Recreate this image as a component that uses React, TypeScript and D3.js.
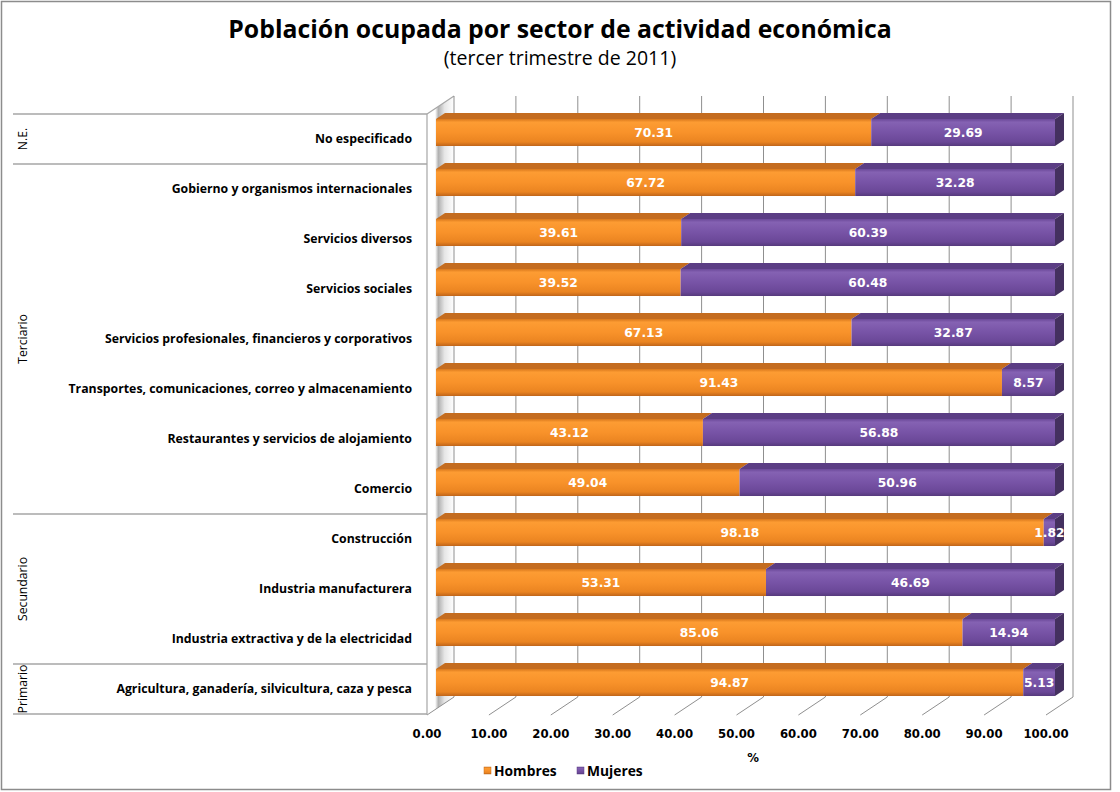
import React from "react";
import * as d3 from "d3";

const categories = [
  "No especificado",
  "Gobierno y organismos internacionales",
  "Servicios diversos",
  "Servicios sociales",
  "Servicios profesionales, financieros y corporativos",
  "Transportes, comunicaciones, correo y almacenamiento",
  "Restaurantes y servicios de alojamiento",
  "Comercio",
  "Construcción",
  "Industria manufacturera",
  "Industria extractiva y de la electricidad",
  "Agricultura, ganadería, silvicultura, caza y pesca",
];
const hombres = [70.31, 67.72, 39.61, 39.52, 67.13, 91.43, 43.12, 49.04, 98.18, 53.31, 85.06, 94.87];
const mujeres = [29.69, 32.28, 60.39, 60.48, 32.87, 8.57, 56.88, 50.96, 1.82, 46.69, 14.94, 5.13];
const groupNames = ["N.E.", "Terciario", "Secundario", "Primario"];
const groupSizes = [1, 7, 3, 1];
const tickValues = [0, 10, 20, 30, 40, 50, 60, 70, 80, 90, 100];
const seriesNames = ["Hombres", "Mujeres"];

const W = 1120;
const H = 792;
const DX = -27;
const DY = 18;
const FRONT = 0.667;
const BACK = 0.333;
const WALL_TOP = 96;
const WALL_BOTTOM = 697;

const FONT = "'Open Sans', 'DejaVu Sans', sans-serif";
const NUMFONT = "'DejaVu Sans', Verdana, sans-serif";

export default function App() {
  const xBack = d3.scaleLinear().domain([0, 100]).range([454, 1073]);
  const yBack = d3
    .scaleBand<string>()
    .domain(categories)
    .range([WALL_TOP - 0.5, WALL_BOTTOM - 1.5])
    .paddingInner(0.46)
    .paddingOuter(0.23);
  const bw = yBack.bandwidth();
  const step = 50;

  const proj = (v: number, y: number, d: number): [number, number] => [xBack(v) + DX * d, y + DY * d];
  const pts = (arr: [number, number][]) => arr.map((p) => p.join(",")).join(" ");

  const frontBandTop = WALL_TOP + DY; // 114
  const frontBandCenter = (i: number) => frontBandTop + step * (i + 0.5);

  const colors = {
    top: ["#c46c1f", "#5b3d84"],
    side: ["#a85a15", "#44305f"],
  };

  const bars: React.ReactNode[] = [];
  const labels: React.ReactNode[] = [];
  categories.forEach((c, i) => {
    const y0 = yBack(c)!;
    const segs = [
      [0, hombres[i]],
      [hombres[i], hombres[i] + mujeres[i]],
    ];
    const vals = [hombres[i], mujeres[i]];
    segs.forEach(([a, b], s) => {
      const f1 = proj(a, y0, FRONT);
      const f2 = proj(b, y0 + bw, FRONT);
      const top = [proj(a, y0, FRONT), proj(b, y0, FRONT), proj(b, y0, BACK), proj(a, y0, BACK)];
      bars.push(<polygon key={`t${i}-${s}`} points={pts(top as [number, number][])} fill={colors.top[s]} />);
      if (s === 1) {
        const side = [proj(b, y0, FRONT), proj(b, y0, BACK), proj(b, y0 + bw, BACK), proj(b, y0 + bw, FRONT)];
        bars.push(<polygon key={`s${i}`} points={pts(side as [number, number][])} fill={colors.side[s]} />);
      }
      bars.push(
        <rect
          key={`f${i}-${s}`}
          x={f1[0]}
          y={f1[1]}
          width={f2[0] - f1[0]}
          height={f2[1] - f1[1]}
          fill={`url(#grad${s})`}
        />
      );
      labels.push(
        <text
          key={`v${i}-${s}`}
          x={(f1[0] + f2[0]) / 2}
          y={(f1[1] + f2[1]) / 2}
          dy="0.36em"
          textAnchor="middle"
          fill="#ffffff"
          fontFamily={NUMFONT}
          fontWeight="bold"
          fontSize={12.3}
        >
          {vals[s].toFixed(2)}
        </text>
      );
    });
  });

  const boundaries: number[] = [0];
  groupSizes.forEach((g, k) => boundaries.push(boundaries[k] + g));

  return (
    <svg
      width={W}
      height={H}
      viewBox={`0 0 ${W} ${H}`}
      style={{ position: "absolute", left: 0, top: 0, background: "#fff" }}
    >
      <defs>
        <linearGradient id="grad0" x1="0" y1="0" x2="0" y2="1">
          <stop offset="0" stopColor="#d9781c" />
          <stop offset="0.12" stopColor="#fd9c33" />
          <stop offset="0.5" stopColor="#f8922a" />
          <stop offset="0.85" stopColor="#ea8421" />
          <stop offset="1" stopColor="#c0651a" />
        </linearGradient>
        <linearGradient id="grad1" x1="0" y1="0" x2="0" y2="1">
          <stop offset="0" stopColor="#6a4898" />
          <stop offset="0.12" stopColor="#8562b3" />
          <stop offset="0.5" stopColor="#7753a6" />
          <stop offset="0.85" stopColor="#6a4797" />
          <stop offset="1" stopColor="#563a7d" />
        </linearGradient>
        <linearGradient id="wallGrad" x1="0" y1="0" x2="1" y2="0">
          <stop offset="0" stopColor="#ffffff" />
          <stop offset="0.3" stopColor="#ffffff" />
          <stop offset="0.42" stopColor="#b0b0b0" />
          <stop offset="0.65" stopColor="#e6e6e6" />
          <stop offset="1" stopColor="#ffffff" />
        </linearGradient>
      </defs>

      <rect x={1.5} y={1.5} width={1109} height={788} fill="#fff" stroke="#8c8c8c" strokeWidth={1.5} />

      <text x={560} y={38} textAnchor="middle" fontFamily={FONT} fontWeight="bold" fontSize={24.8} fill="#000">
        Población ocupada por sector de actividad económica
      </text>
      <text x={560} y={65} textAnchor="middle" fontFamily={FONT} fontSize={19.5} fill="#000">
        (tercer trimestre de 2011)
      </text>

      {/* left wall */}
      <polygon
        points={pts([
          [xBack(0), WALL_TOP],
          [xBack(0), WALL_BOTTOM],
          [xBack(0) + DX, WALL_BOTTOM + DY],
          [xBack(0) + DX, WALL_TOP + DY],
        ])}
        fill="url(#wallGrad)"
      />
      <line x1={xBack(0)} y1={WALL_TOP} x2={xBack(0) + DX} y2={WALL_TOP + DY} stroke="#a6a6a6" strokeWidth={1.2} />

      {/* back wall gridlines and floor */}
      {tickValues.map((t) => (
        <g key={`g${t}`}>
          <line x1={xBack(t)} y1={WALL_TOP} x2={xBack(t)} y2={WALL_BOTTOM} stroke="#8f8f8f" strokeWidth={1} />
          <line
            x1={xBack(t)}
            y1={WALL_BOTTOM}
            x2={xBack(t) + DX}
            y2={WALL_BOTTOM + DY}
            stroke="#8f8f8f"
            strokeWidth={1}
          />
        </g>
      ))}

      {bars}
      {labels}

      {/* category axis */}
      <line
        x1={xBack(0) + DX}
        y1={frontBandTop}
        x2={xBack(0) + DX}
        y2={WALL_BOTTOM + DY}
        stroke="#a6a6a6"
        strokeWidth={1.2}
      />
      {boundaries.map((b, k) => (
        <line
          key={`sep${k}`}
          x1={13}
          x2={xBack(0) + DX}
          y1={frontBandTop + b * step}
          y2={frontBandTop + b * step}
          stroke="#a6a6a6"
          strokeWidth={1.5}
        />
      ))}
      {categories.map((c, i) => (
        <text
          key={`c${i}`}
          x={412}
          y={frontBandCenter(i)}
          dy="0.35em"
          textAnchor="end"
          fontFamily={FONT}
          fontWeight="bold"
          fontSize={12.3}
          fill="#000"
        >
          {c}
        </text>
      ))}
      {groupNames.map((g, k) => {
        const yc = frontBandTop + ((boundaries[k] + boundaries[k + 1]) / 2) * step;
        return (
          <text
            key={`gn${k}`}
            transform={`translate(23,${yc}) rotate(-90)`}
            dy="0.35em"
            textAnchor="middle"
            fontFamily={FONT}
            fontSize={12.2}
            fill="#000"
          >
            {g}
          </text>
        );
      })}

      {/* value axis labels */}
      {tickValues.map((t) => (
        <text
          key={`tl${t}`}
          x={xBack(t) + DX}
          y={738}
          textAnchor="middle"
          fontFamily={NUMFONT}
          fontWeight="bold"
          fontSize={11.7}
          fill="#000"
        >
          {t.toFixed(2)}
        </text>
      ))}
      <text x={753} y={762} textAnchor="middle" fontFamily={NUMFONT} fontWeight="bold" fontSize={11.7} fill="#000">
        %
      </text>

      {/* legend */}
      {seriesNames.map((s, k) => {
        const lx = [484, 577][k];
        return (
          <g key={`lg${k}`}>
            <rect x={lx} y={767} width={7} height={7} fill={`url(#grad${k})`} stroke={colors.top[k]} strokeWidth={0.5} />
            <text x={lx + 10} y={775.5} fontFamily={FONT} fontWeight="bold" fontSize={13.8} fill="#000">
              {s}
            </text>
          </g>
        );
      })}
    </svg>
  );
}
